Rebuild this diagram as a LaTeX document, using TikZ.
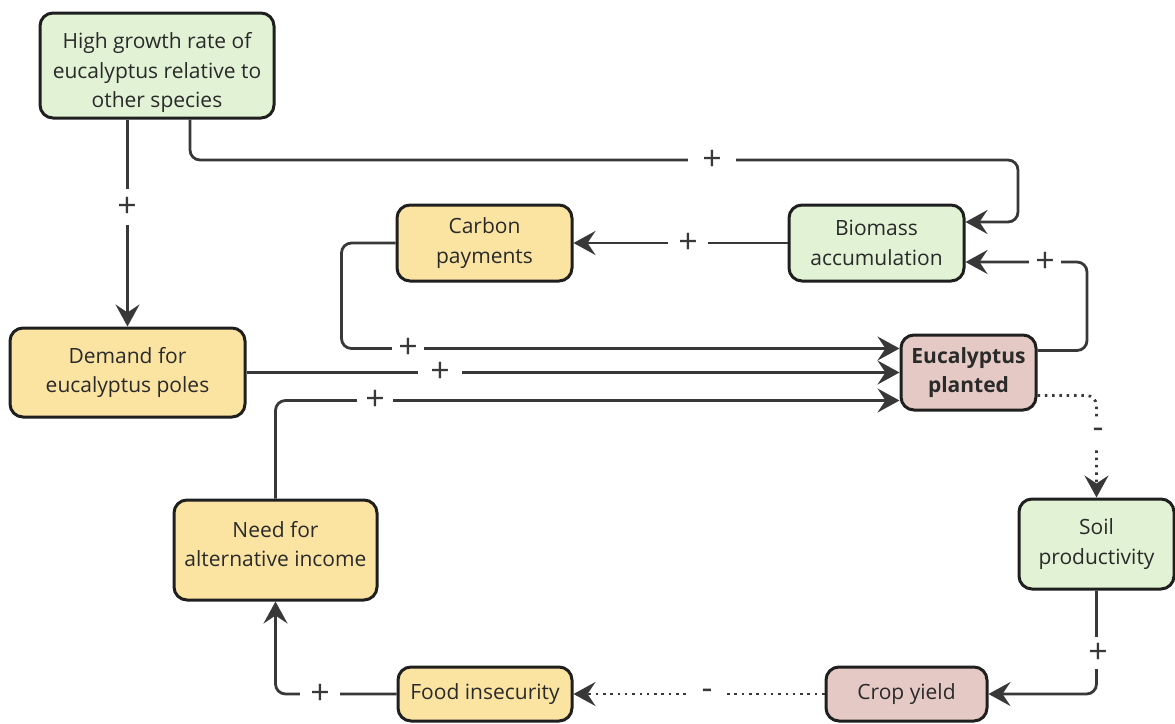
\documentclass[tikz,border=0pt]{standalone}
\usepackage{fontspec}
\setmainfont{Open Sans}
\usetikzlibrary{arrows.meta}
\definecolor{gfill}{HTML}{E1F2D5}
\definecolor{yfill}{HTML}{FBE4A2}
\definecolor{pfill}{HTML}{E4C9C4}
\definecolor{bord}{HTML}{1F1F1F}
\definecolor{lin}{HTML}{383838}
\definecolor{txt}{HTML}{2A2A2A}
\tikzset{
  box/.style={draw=bord, line width=3pt, rounded corners=13pt, align=center,
    font=\fontsize{21}{29.5}\selectfont, text=txt, inner sep=2pt},
  gbox/.style={box, fill=gfill},
  ybox/.style={box, fill=yfill},
  pbox/.style={box, fill=pfill},
  conn/.style={draw=lin, line width=2.8pt, rounded corners=10pt,
    -{Stealth[length=22pt,width=24pt,inset=8pt]}},
  dotconn/.style={conn, dash pattern=on 2.5pt off 4.8pt},
  sign/.style={fill=white, text=lin, inner xsep=6pt, inner ysep=0pt,
    font=\fontsize{34}{34}\selectfont},
}
\begin{document}
\begin{tikzpicture}[x=1pt,y=-1pt]
\useasboundingbox (0,0) rectangle (1175,723);
\node[gbox, minimum width=234pt, minimum height=105pt] (hg) at (157,65.5) {\raisebox{-7pt}[\height][\depth]{\begin{tabular}{@{}c@{}}High growth rate of\\eucalyptus relative to\\other species\end{tabular}}};
\node[ybox, minimum width=175pt, minimum height=76pt] (cp) at (484.5,243) {Carbon\\payments};
\node[gbox, minimum width=175pt, minimum height=76pt] (bio) at (876.5,243) {Biomass\\accumulation};
\node[ybox, minimum width=235pt, minimum height=89pt] (dem) at (127.5,372.5) {Demand for\\eucalyptus poles};
\node[pbox, minimum width=135pt, minimum height=75pt, font=\fontsize{21}{29.5}\selectfont\bfseries] (euc) at (968.5,372.5) {Eucalyptus\\planted};
\node[ybox, minimum width=203pt, minimum height=100pt] (need) at (275.5,550) {\raisebox{4pt}[\height][\depth]{\begin{tabular}{@{}c@{}}Need for\\alternative income\end{tabular}}};
\node[gbox, minimum width=155pt, minimum height=90pt] (soil) at (1096.5,544) {Soil\\productivity};
\node[ybox, minimum width=174pt, minimum height=54pt] (fi) at (485,694) {Food insecurity};
\node[pbox, minimum width=161pt, minimum height=54pt] (cy) at (906.5,694) {Crop yield};

% connectors
\draw[conn] (hg.south -| dem.north) -- (dem.north);
\draw[conn] ([xshift=33pt]hg.south) |- (1018,160) |- ([yshift=21pt]bio.east);
\draw[conn] (bio.west) -- (cp.east);
\draw[conn] (cp.west) -- ++(-54,0) |- ([yshift=24pt]euc.west);
\draw[conn] (dem.east) -- (euc.west);
\draw[conn] (need.north) |- ([yshift=-28pt]euc.west);
\draw[conn] ([yshift=22pt]euc.east) -| (1087,262) -- ([yshift=-19pt]bio.east);
\draw[dotconn] ([yshift=-23pt]euc.east) -| (soil.north);
\draw[conn] (soil.south) |- (cy.east);
\draw[dotconn] (cy.west) -- (fi.east);
\draw[conn] (fi.west) -| (need.south);

% signs
\node[sign, inner ysep=8pt] (s1) at (127,207) {+};
\node[sign, inner xsep=14pt] (s2) at (712,160) {+};
\node[sign, inner xsep=10pt] (s3) at (688,243) {+};
\node[sign] (s4) at (408,348) {+};
\node[sign, inner xsep=12pt] (s5) at (440,372) {+};
\node[sign, inner xsep=8pt] (s6) at (375,400) {+};
\node[sign] (s7) at (1045,262) {+};
\node[sign, inner ysep=10pt] (s8) at (1098,433) {-};
\node[sign, inner ysep=6pt] (s9) at (1098,653) {+};
\node[sign, inner xsep=14pt] (s10) at (707,694) {-};
\node[sign, inner xsep=10pt] (s11) at (320,694) {+};
\end{tikzpicture}
\end{document}
